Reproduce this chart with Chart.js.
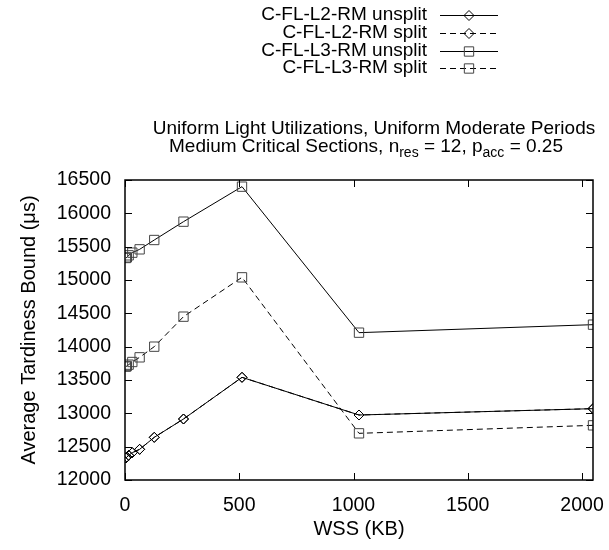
<!DOCTYPE html>
<html>
<head>
<meta charset="utf-8">
<script src="https://cdn.jsdelivr.net/npm/chart.js@4"></script>
<style>
  body { margin: 0; background: #fff; }
  canvas { display: block; }
</style>
</head>
<body>
<canvas id="grafico" width="609" height="550"></canvas>
<script>
// datos
const wss = [4, 8, 16, 32, 64, 128, 256, 512, 1024, 2048];
const l2Unsplit = [12330, 12345, 12370, 12410, 12460, 12640, 12915, 13540, 12975, 13070];
const l2Split   = [12330, 12345, 12370, 12410, 12460, 12640, 12915, 13540, 12975, 13070];
const l3Unsplit = [15330, 15340, 15370, 15410, 15460, 15600, 15875, 16400, 14210, 14330];
const l3Split   = [13700, 13710, 13730, 13770, 13840, 14000, 14450, 15040, 12700, 12820];

const seriesNames = ['C-FL-L2-RM unsplit', 'C-FL-L2-RM split', 'C-FL-L3-RM unsplit', 'C-FL-L3-RM split'];
const xTicks = [0, 500, 1000, 1500, 2000];
const yTicks = [12000, 12500, 13000, 13500, 14000, 14500, 15000, 15500, 16000, 16500];

const FONT = '"Liberation Sans", Arial, Helvetica, sans-serif';
const FS = 19;

function puntos(vals) {
    return wss.map((x, i) => ({ x: x, y: vals[i] }));
}

function serie(label, vals, dashed, style, color) {
    return {
        label: label,
        data: puntos(vals),
        borderColor: '#000',
        borderWidth: 1,
        borderDash: dashed ? [6, 4] : [],
        pointStyle: style,
        pointRadius: style === 'rect' ? 6.6 : 5,
        pointBorderColor: color,
        pointBackgroundColor: 'rgba(0,0,0,0)',
        pointBorderWidth: 1,
        tension: 0,
        fill: false
    };
}

// marcas de los ejes hacia adentro y el marco
const marcoPlugin = {
    id: 'marco',
    afterDatasetsDraw(chart) {
        const ctx = chart.ctx;
        const a = chart.chartArea;
        const xs = chart.scales.x, ys = chart.scales.y;
        ctx.save();
        ctx.strokeStyle = '#000';
        ctx.lineWidth = 1;
        ctx.beginPath();
        xTicks.forEach(v => {
            const px = Math.round(xs.getPixelForValue(v)) + 0.5;
            ctx.moveTo(px, a.bottom); ctx.lineTo(px, a.bottom - 7);
            ctx.moveTo(px, a.top); ctx.lineTo(px, a.top + 7);
        });
        yTicks.forEach(v => {
            const py = Math.round(ys.getPixelForValue(v)) + 0.5;
            ctx.moveTo(a.left, py); ctx.lineTo(a.left + 7, py);
            ctx.moveTo(a.right, py); ctx.lineTo(a.right - 7, py);
        });
        ctx.stroke();
        ctx.lineWidth = 1.5;
        ctx.strokeRect(a.left, a.top, a.right - a.left, a.bottom - a.top);
        ctx.restore();
    }
};

// titulo con subindices
const tituloPlugin = {
    id: 'titulo',
    afterDraw(chart) {
        const ctx = chart.ctx;
        ctx.save();
        ctx.fillStyle = '#000';
        ctx.textBaseline = 'middle';
        ctx.font = FS + 'px ' + FONT;
        ctx.textAlign = 'center';
        ctx.fillText('Uniform Light Utilizations, Uniform Moderate Periods', 374, 129);

        const partes = [
            ['Medium Critical Sections, n', false],
            ['res', true],
            [' = 12, p', false],
            ['acc', true],
            [' = 0.25', false]
        ];
        const subFs = 14;
        let total = 0;
        partes.forEach(p => {
            ctx.font = (p[1] ? subFs : FS) + 'px ' + FONT;
            total += ctx.measureText(p[0]).width;
        });
        let x = 366 - total / 2;
        ctx.textAlign = 'left';
        partes.forEach(p => {
            ctx.font = (p[1] ? subFs : FS) + 'px ' + FONT;
            ctx.fillText(p[0], x, p[1] ? 153 : 147);
            x += ctx.measureText(p[0]).width;
        });
        ctx.restore();
    }
};

// leyenda al estilo gnuplot
const leyendaPlugin = {
    id: 'leyenda',
    afterDraw(chart) {
        const ctx = chart.ctx;
        const filas = [15, 33, 51, 68];
        ctx.save();
        chart.data.datasets.forEach((ds, i) => {
            const y = filas[i];
            ctx.font = FS + 'px ' + FONT;
            ctx.fillStyle = '#000';
            ctx.textAlign = 'right';
            ctx.textBaseline = 'middle';
            ctx.fillText(ds.label, 427, y);
            ctx.strokeStyle = '#000';
            ctx.lineWidth = 1;
            ctx.setLineDash(ds.borderDash);
            ctx.beginPath();
            ctx.moveTo(440, y + 0.5);
            ctx.lineTo(498, y + 0.5);
            ctx.stroke();
            ctx.setLineDash([]);
            ctx.fillStyle = 'rgba(0,0,0,0)';
            ctx.strokeStyle = ds.pointBorderColor;
            ctx.lineWidth = 1;
            Chart.helpers.drawPoint(ctx, {
                pointStyle: ds.pointStyle,
                radius: ds.pointRadius,
                borderWidth: 1
            }, 469, y + 0.5);
        });
        ctx.restore();
    }
};

const ctx = document.getElementById('grafico').getContext('2d');
const grafico = new Chart(ctx, {
    type: 'line',
    data: {
        datasets: [
            serie(seriesNames[0], l2Unsplit, false, 'rectRot', '#000'),
            serie(seriesNames[1], l2Split, true, 'rectRot', '#000'),
            serie(seriesNames[2], l3Unsplit, false, 'rect', '#444'),
            serie(seriesNames[3], l3Split, true, 'rect', '#444')
        ]
    },
    options: {
        responsive: false,
        animation: false,
        layout: { padding: { top: 180, right: 16, left: 0, bottom: 0 } },
        plugins: {
            legend: { display: false },
            title: { display: false },
            tooltip: { enabled: false }
        },
        scales: {
            x: {
                type: 'linear',
                min: 0,
                max: 2048,
                afterFit(s) { s.height = 70; s.paddingLeft = 0; s.paddingRight = 0; },
                afterBuildTicks(s) { s.ticks = xTicks.map(v => ({ value: v })); },
                grid: { display: false, drawTicks: false, tickLength: 0 },
                border: { display: false },
                ticks: {
                    color: '#000',
                    padding: 14,
                    font: { family: FONT, size: 19.5 },
                    callback: v => String(v)
                },
                title: {
                    display: true,
                    text: 'WSS (KB)',
                    color: '#000',
                    font: { family: FONT, size: 20 },
                    padding: { top: 0, bottom: 9 }
                }
            },
            y: {
                type: 'linear',
                min: 12000,
                max: 16500,
                afterFit(s) { s.width = 125; s.paddingTop = 0; s.paddingBottom = 0; },
                afterBuildTicks(s) { s.ticks = yTicks.map(v => ({ value: v })); },
                grid: { display: false, drawTicks: false, tickLength: 0 },
                border: { display: false },
                ticks: {
                    color: '#000',
                    padding: 14,
                    font: { family: FONT, size: 19.5 },
                    callback: v => String(v)
                },
                title: {
                    display: true,
                    text: 'Average Tardiness Bound (μs)',
                    color: '#000',
                    font: { family: FONT, size: 20 },
                    padding: { top: 17, bottom: 0 }
                }
            }
        }
    },
    plugins: [marcoPlugin, tituloPlugin, leyendaPlugin]
});
</script>
</body>
</html>
